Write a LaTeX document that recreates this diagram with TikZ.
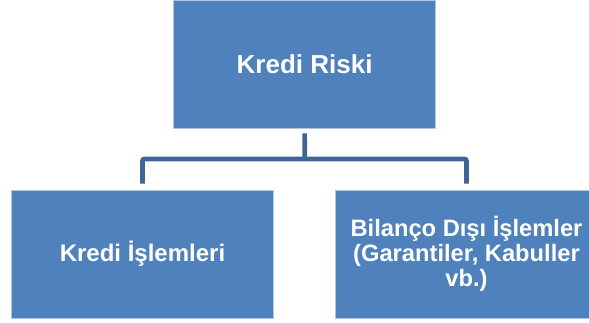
\documentclass[tikz,border=0pt]{standalone}
\usepackage{fontspec}
\setmainfont{Liberation Sans}
\definecolor{boxblue}{HTML}{4F81BD}
\definecolor{connblue}{HTML}{3D6697}
\begin{document}
\begin{tikzpicture}[x=1pt,y=-1pt,
  box/.style={rectangle, fill=boxblue, draw=white!55!boxblue, line width=0.7pt,
    minimum width=261.6pt, minimum height=128pt, inner sep=0pt,
    text=white, align=center, font=\bfseries},
  conn/.style={draw=connblue, line width=4.7pt}]
\clip (0,0) rectangle (589,322);
\fill[white] (0,0) rectangle (589,322);
\node[box, font=\bfseries\fontsize{26}{30}\selectfont] (top) at (304.6,64) {Kredi Riski};
\node[box, font=\bfseries\fontsize{24}{28}\selectfont] (left) at (142.5,254) {Kredi İşlemleri};
\node[box, font=\bfseries\fontsize{23.7}{25}\selectfont] (right) at (466.5,254) {Bilanço Dışı İşlemler\\(Garantiler, Kabuller\\vb.)};
\coordinate (j) at (304.8,159);
\draw[conn] ([yshift=-5pt]top.south) -- (j);
\draw[conn, rounded corners=2pt] ([yshift=6pt]left.north) |- (j) -| ([yshift=6pt]right.north);
\end{tikzpicture}
\end{document}
